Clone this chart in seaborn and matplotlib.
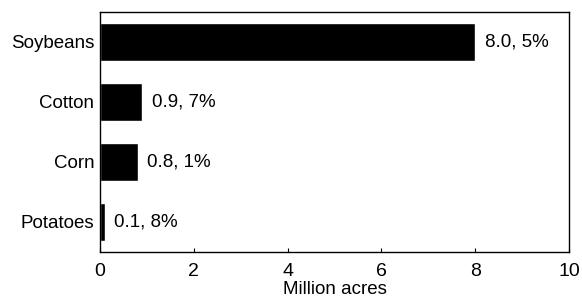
import matplotlib
matplotlib.use("Agg")
import matplotlib.pyplot as plt
import seaborn as sns
import pandas as pd

crops = ["Soybeans", "Cotton", "Corn", "Potatoes"]
acres = [8.0, 0.9, 0.8, 0.1]
shares = ["5%", "7%", "1%", "8%"]

sns.set_style("ticks")
plt.rcParams["font.family"] = ["Liberation Sans", "DejaVu Sans"]
plt.rcParams["text.color"] = "black"
plt.rcParams["xtick.color"] = "black"
plt.rcParams["ytick.color"] = "black"
plt.rcParams["axes.labelcolor"] = "black"

df = pd.DataFrame({"crop": crops, "acres": acres})

fig = plt.figure(figsize=(5.82, 3.01), dpi=100)
ax = fig.add_axes([100 / 582, 49 / 301, 469 / 582, 240 / 301])

sns.barplot(data=df, x="acres", y="crop", order=crops, color="black",
            width=0.62, saturation=1, ax=ax)

# value labels next to each bar
for i, (v, s) in enumerate(zip(acres, shares)):
    ax.annotate(f"{v:.1f}, {s}", (v, i), xytext=(7, 0), textcoords="offset points",
                va="center", ha="left", fontsize=13.5, color="black")

ax.set_xlim(0, 10)
ax.set_ylim(3.5, -0.5)
ax.set_xticks([0, 2, 4, 6, 8, 10])
ax.tick_params(axis="x", direction="in", length=3, labelsize=14, pad=8)
ax.tick_params(axis="y", length=0, labelsize=13.5, pad=4)
ax.set_xlabel("Million acres", fontsize=13.5, labelpad=1)
ax.set_ylabel("")
for sp in ax.spines.values():
    sp.set_visible(True)
    sp.set_linewidth(1.0)
    sp.set_color("black")

fig.savefig("out.png", dpi=100)
plt.close(fig)
